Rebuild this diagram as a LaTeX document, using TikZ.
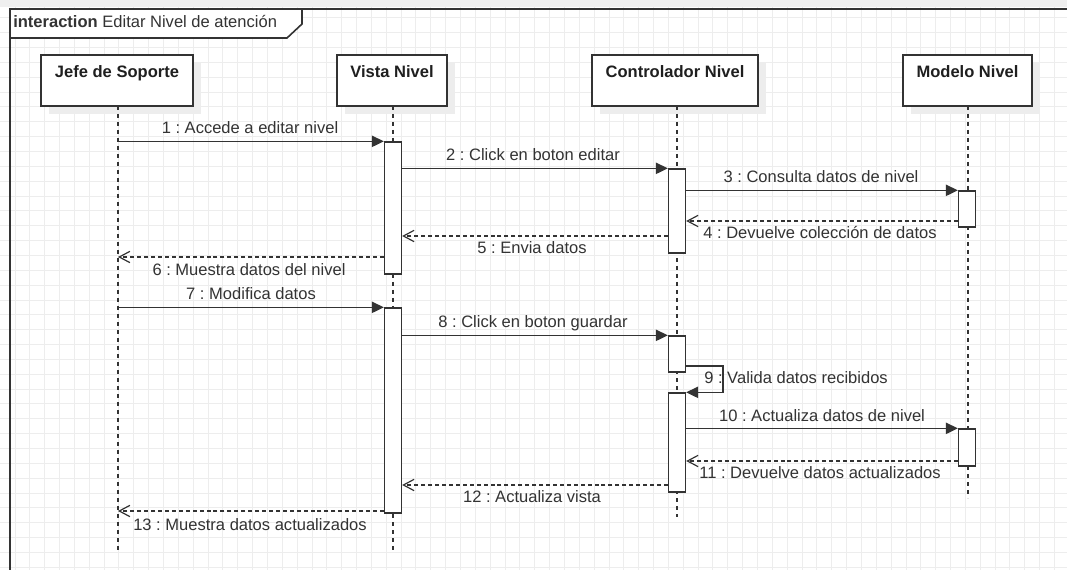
\documentclass[tikz,border=0pt]{standalone}
\usepackage{fontspec}
\setmainfont{Liberation Sans}
\usetikzlibrary{arrows.meta,shadows}
\definecolor{ink}{HTML}{333333}
\definecolor{gridc}{HTML}{EDEDED}
\definecolor{bandc}{HTML}{EFEFEF}
\definecolor{shadc}{HTML}{EDEDED}
\frenchspacing
\begin{document}
\begin{tikzpicture}[x=0.75pt,y=-0.75pt,
  lbl/.style={font=\fontsize{12.4}{14}\selectfont, text=ink, inner sep=0pt, anchor=base},
  hdr/.style={font=\fontsize{12.4}{14}\selectfont\bfseries, text=black!88, inner sep=0pt, anchor=base},
  head/.style={draw=ink, line width=1pt, fill=white, inner sep=0pt, minimum height=38.25pt,
    general shadow={fill=shadc, shadow xshift=6pt, shadow yshift=-6pt}},
  act/.style={draw=ink, line width=1pt, fill=white, inner sep=0pt, minimum width=12.75pt},
  life/.style={draw=ink, line width=1pt, dash pattern=on 3pt off 3pt},
  msg/.style={draw=ink, line width=1pt, -{Triangle[length=9pt,width=8.5pt]}},
  ret/.style={draw=ink, line width=0.9pt, dash pattern=on 3pt off 2.2pt, -{Straight Barb[length=8pt,width=8.5pt]}},
  frm/.style={draw=ink, line width=1.2pt}]
\useasboundingbox (0,0) rectangle (1067,570);
\fill[white] (0,0) rectangle (1067,570);
% grid
\foreach \i in {0,...,72} {\draw[gridc, line width=0.75pt] ({15+14.85*\i},0) -- ({15+14.85*\i},570);}
\foreach \i in {0,...,38} {\draw[gridc, line width=0.75pt] (0,{3+14.85*\i}) -- (1067,{3+14.85*\i});}
\fill[bandc] (0,0) rectangle (1067,7);
% frame
\draw[frm] (10,570) -- (10,9) -- (1067,9);
\draw[frm, fill=white] (10,9) -- (302,9) -- (302,24) -- (287,38) -- (10,38) -- cycle;
\node[lbl, anchor=base west] (title) at (13,28) {\textbf{interaction} Editar Nivel de atención};
% lifeline heads
\node[head, minimum width=114pt] (jhead) at (117,80.5) {};
\node[head, minimum width=82.5pt] (vhead) at (392,80.5) {};
\node[head, minimum width=124.5pt] (chead) at (675,80.5) {};
\node[head, minimum width=96.75pt] (mhead) at (967.5,80.5) {};
\node[hdr] (jtxt) at (117,77.5) {Jefe de Soporte};
\node[hdr] (vtxt) at (392,77.5) {Vista Nivel};
\node[hdr] (ctxt) at (675,77.5) {Controlador Nivel};
\node[hdr] (mtxt) at (967.5,77.5) {Modelo Nivel};
% lifeline x positions and ends
\coordinate (jl) at (118,106);
\coordinate (vl) at (393,106);
\coordinate (cl) at (677,106);
\coordinate (ml) at (968,106);
\coordinate (jend) at (118,550);
\coordinate (vend) at (393,550);
\coordinate (cend) at (677,517);
\coordinate (mend) at (968,498);
\draw[life] (jl) -- (jend);
\draw[life] (vl) -- (vend);
\draw[life] (cl) -- (cend);
\draw[life] (ml) -- (mend);
% activation bars
\node[act, minimum height=99pt] (vA1) at (393,208) {};
\node[act, minimum height=63pt] (cA1) at (677,211) {};
\node[act, minimum height=27pt] (mA1) at (967,209) {};
\node[act, minimum height=153.75pt] (vA2) at (393,410.5) {};
\node[act, minimum height=27pt] (cA2) at (677,354) {};
\node[act, minimum height=74.25pt] (cA3) at (677,442.5) {};
\node[act, minimum height=27.75pt] (mA2) at (967,447.5) {};
% message levels
\coordinate (y4) at (0,221);
\coordinate (y5) at (0,236);
\coordinate (y6) at (0,257);
\coordinate (y9) at (0,366);
\coordinate (s9) at (723,366);
\coordinate (y11) at (0,461);
\coordinate (y12) at (0,485);
\coordinate (y13) at (0,511);
% messages
\draw[msg] (jl |- vA1.north west) -- (vA1.north west);
\draw[msg] (vA1.east |- cA1.north) -- (cA1.north west);
\draw[msg] (cA1.east |- mA1.north) -- (mA1.north west);
\draw[ret] (mA1.west |- y4) -- (cA1.east |- y4);
\draw[ret] (cA1.west |- y5) -- (vA1.east |- y5);
\draw[ret] (vA1.west |- y6) -- (jl |- y6);
\draw[msg] (jl |- vA2.north west) -- (vA2.north west);
\draw[msg] (vA2.east |- cA2.north) -- (cA2.north west);
\draw[msg] (cA2.east |- y9) -- (s9) |- (cA3.north east);
\draw[msg] (cA3.east |- mA2.north) -- (mA2.north west);
\draw[ret] (mA2.west |- y11) -- (cA3.east |- y11);
\draw[ret] (cA3.west |- y12) -- (vA2.east |- y12);
\draw[ret] (vA2.west |- y13) -- (jl |- y13);
% labels
\node[lbl] (t1) at (250,133.5) {1 : Accede a editar nivel};
\node[lbl] (t2) at (533,160.5) {2 : Click en boton editar};
\node[lbl] (t3) at (821,182.5) {3 : Consulta datos de nivel};
\node[lbl] (t4) at (820,238.5) {4 : Devuelve colección de datos};
\node[lbl] (t5) at (532,253.5) {5 : Envia datos};
\node[lbl] (t6) at (249,275.5) {6 : Muestra datos del nivel};
\node[lbl] (t7) at (251,299.5) {7 : Modifica datos};
\node[lbl] (t8) at (533,327.5) {8 : Click en boton guardar};
\node[lbl, anchor=base west] (t9) at (704,383.5) {9 : Valida datos recibidos};
\node[lbl] (t10) at (822,421.5) {10 : Actualiza datos de nivel};
\node[lbl] (t11) at (820,478.5) {11 : Devuelve datos actualizados};
\node[lbl] (t12) at (532,502.5) {12 : Actualiza vista};
\node[lbl] (t13) at (250,530.5) {13 : Muestra datos actualizados};
\end{tikzpicture}
\end{document}
